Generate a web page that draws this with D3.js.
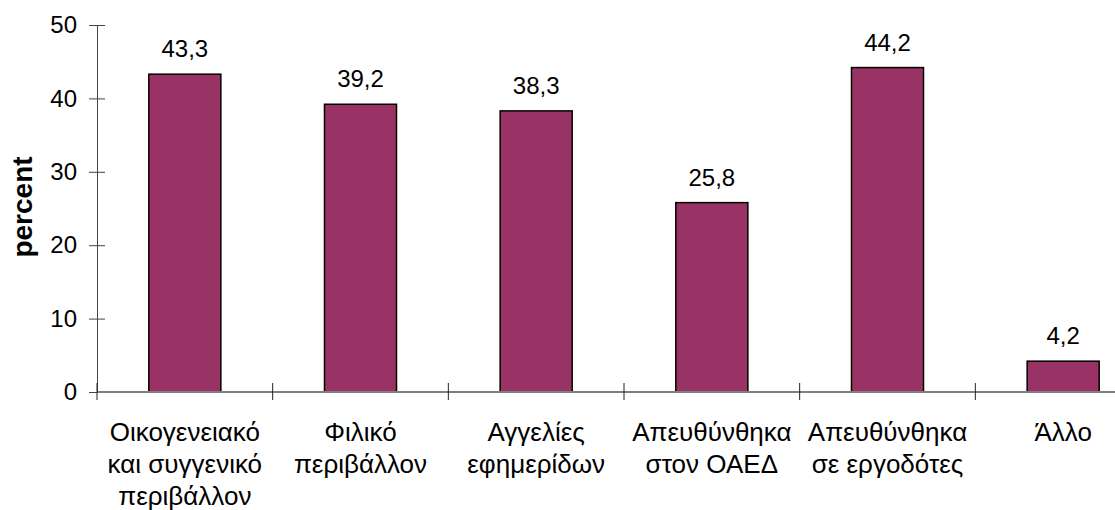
<!DOCTYPE html>
<html>
<head>
<meta charset="utf-8">
<script src="https://cdn.jsdelivr.net/npm/d3@7"></script>
<style>
  body { margin: 0; background: #fff; }
  svg { display: block; font-family: "Liberation Sans", Arial, sans-serif; }
</style>
</head>
<body>
<svg width="1115" height="510"></svg>
<script>
// Categories (each one split in lines) and values:
var categories = [
  ['Οικογενειακό', 'και συγγενικό', 'περιβάλλον'],
  ['Φιλικό', 'περιβάλλον'],
  ['Αγγελίες', 'εφημερίδων'],
  ['Απευθύνθηκα', 'στον ΟΑΕΔ'],
  ['Απευθύνθηκα', 'σε εργοδότες'],
  ['Άλλο']
];
var values = [43.3, 39.2, 38.3, 25.8, 44.2, 4.2];
var yTicks = [0, 10, 20, 30, 40, 50];

var svg = d3.select('svg');

// Plot area:
var plot = {left: 97, right: 1151, top: 25, bottom: 392};

// Greek number format (comma decimal):
var fmt = d3.formatLocale({decimal: ',', thousands: '.', grouping: [3], currency: ['', '€']}).format('.1f');

var keys = categories.map(function (d, i) { return i; });

var x = d3.scaleBand()
  .domain(keys)
  .range([plot.left, plot.right])
  .paddingInner(0.59)
  .paddingOuter(0.295);

var y = d3.scaleLinear().domain([0, 50]).range([plot.bottom, plot.top]);

// Y axis:
var yAxis = svg.append('g')
  .attr('transform', 'translate(' + plot.left + ',0)')
  .call(d3.axisLeft(y).tickValues(yTicks).tickSize(8).tickPadding(12));
yAxis.select('.domain').attr('stroke', '#444').attr('stroke-width', 1);
yAxis.selectAll('.tick line').attr('x1', -8).attr('x2', 8).attr('stroke', '#444');
yAxis.selectAll('.tick text')
  .attr('font-size', 24)
  .attr('font-family', '"Liberation Sans", Arial, sans-serif')
  .attr('fill', '#000');

// Y axis title:
svg.append('text')
  .attr('transform', 'translate(32,207) rotate(-90)')
  .attr('text-anchor', 'middle')
  .attr('font-weight', 'bold')
  .attr('font-size', 28)
  .text('percent');

// Bars:
svg.append('g')
  .selectAll('rect')
  .data(values)
  .join('rect')
  .attr('x', function (d, i) { return x(i); })
  .attr('y', function (d) { return y(d); })
  .attr('width', x.bandwidth())
  .attr('height', function (d) { return y(0) - y(d); })
  .attr('fill', '#993366')
  .attr('stroke', '#000')
  .attr('stroke-width', 1.5);

// Value labels:
svg.append('g')
  .selectAll('text')
  .data(values)
  .join('text')
  .attr('x', function (d, i) { return x(i) + x.bandwidth() / 2; })
  .attr('y', function (d) { return y(d) - 17; })
  .attr('text-anchor', 'middle')
  .attr('font-size', 24)
  .text(function (d) { return fmt(d); });

// X axis line:
svg.append('line')
  .attr('x1', plot.left).attr('x2', plot.right)
  .attr('y1', y(0)).attr('y2', y(0))
  .attr('stroke', '#808080')
  .attr('stroke-width', 2);

// X axis ticks at the category boundaries:
var bounds = d3.range(categories.length + 1).map(function (i) { return plot.left + i * x.step(); });
svg.append('g')
  .selectAll('line')
  .data(bounds)
  .join('line')
  .attr('x1', function (d) { return d; })
  .attr('x2', function (d) { return d; })
  .attr('y1', y(0) - 9)
  .attr('y2', y(0) + 8)
  .attr('stroke', '#222')
  .attr('stroke-width', 1);

// Category labels:
var labels = svg.append('g')
  .selectAll('text')
  .data(categories)
  .join('text')
  .attr('text-anchor', 'middle')
  .attr('font-size', 26)
  .attr('transform', function (d, i) { return 'translate(' + (x(i) + x.bandwidth() / 2) + ',441)'; });

labels.selectAll('tspan')
  .data(function (d) { return d; })
  .join('tspan')
  .attr('x', 0)
  .attr('y', function (d, i) { return i * 32; })
  .text(function (d) { return d; });
</script>
</body>
</html>
